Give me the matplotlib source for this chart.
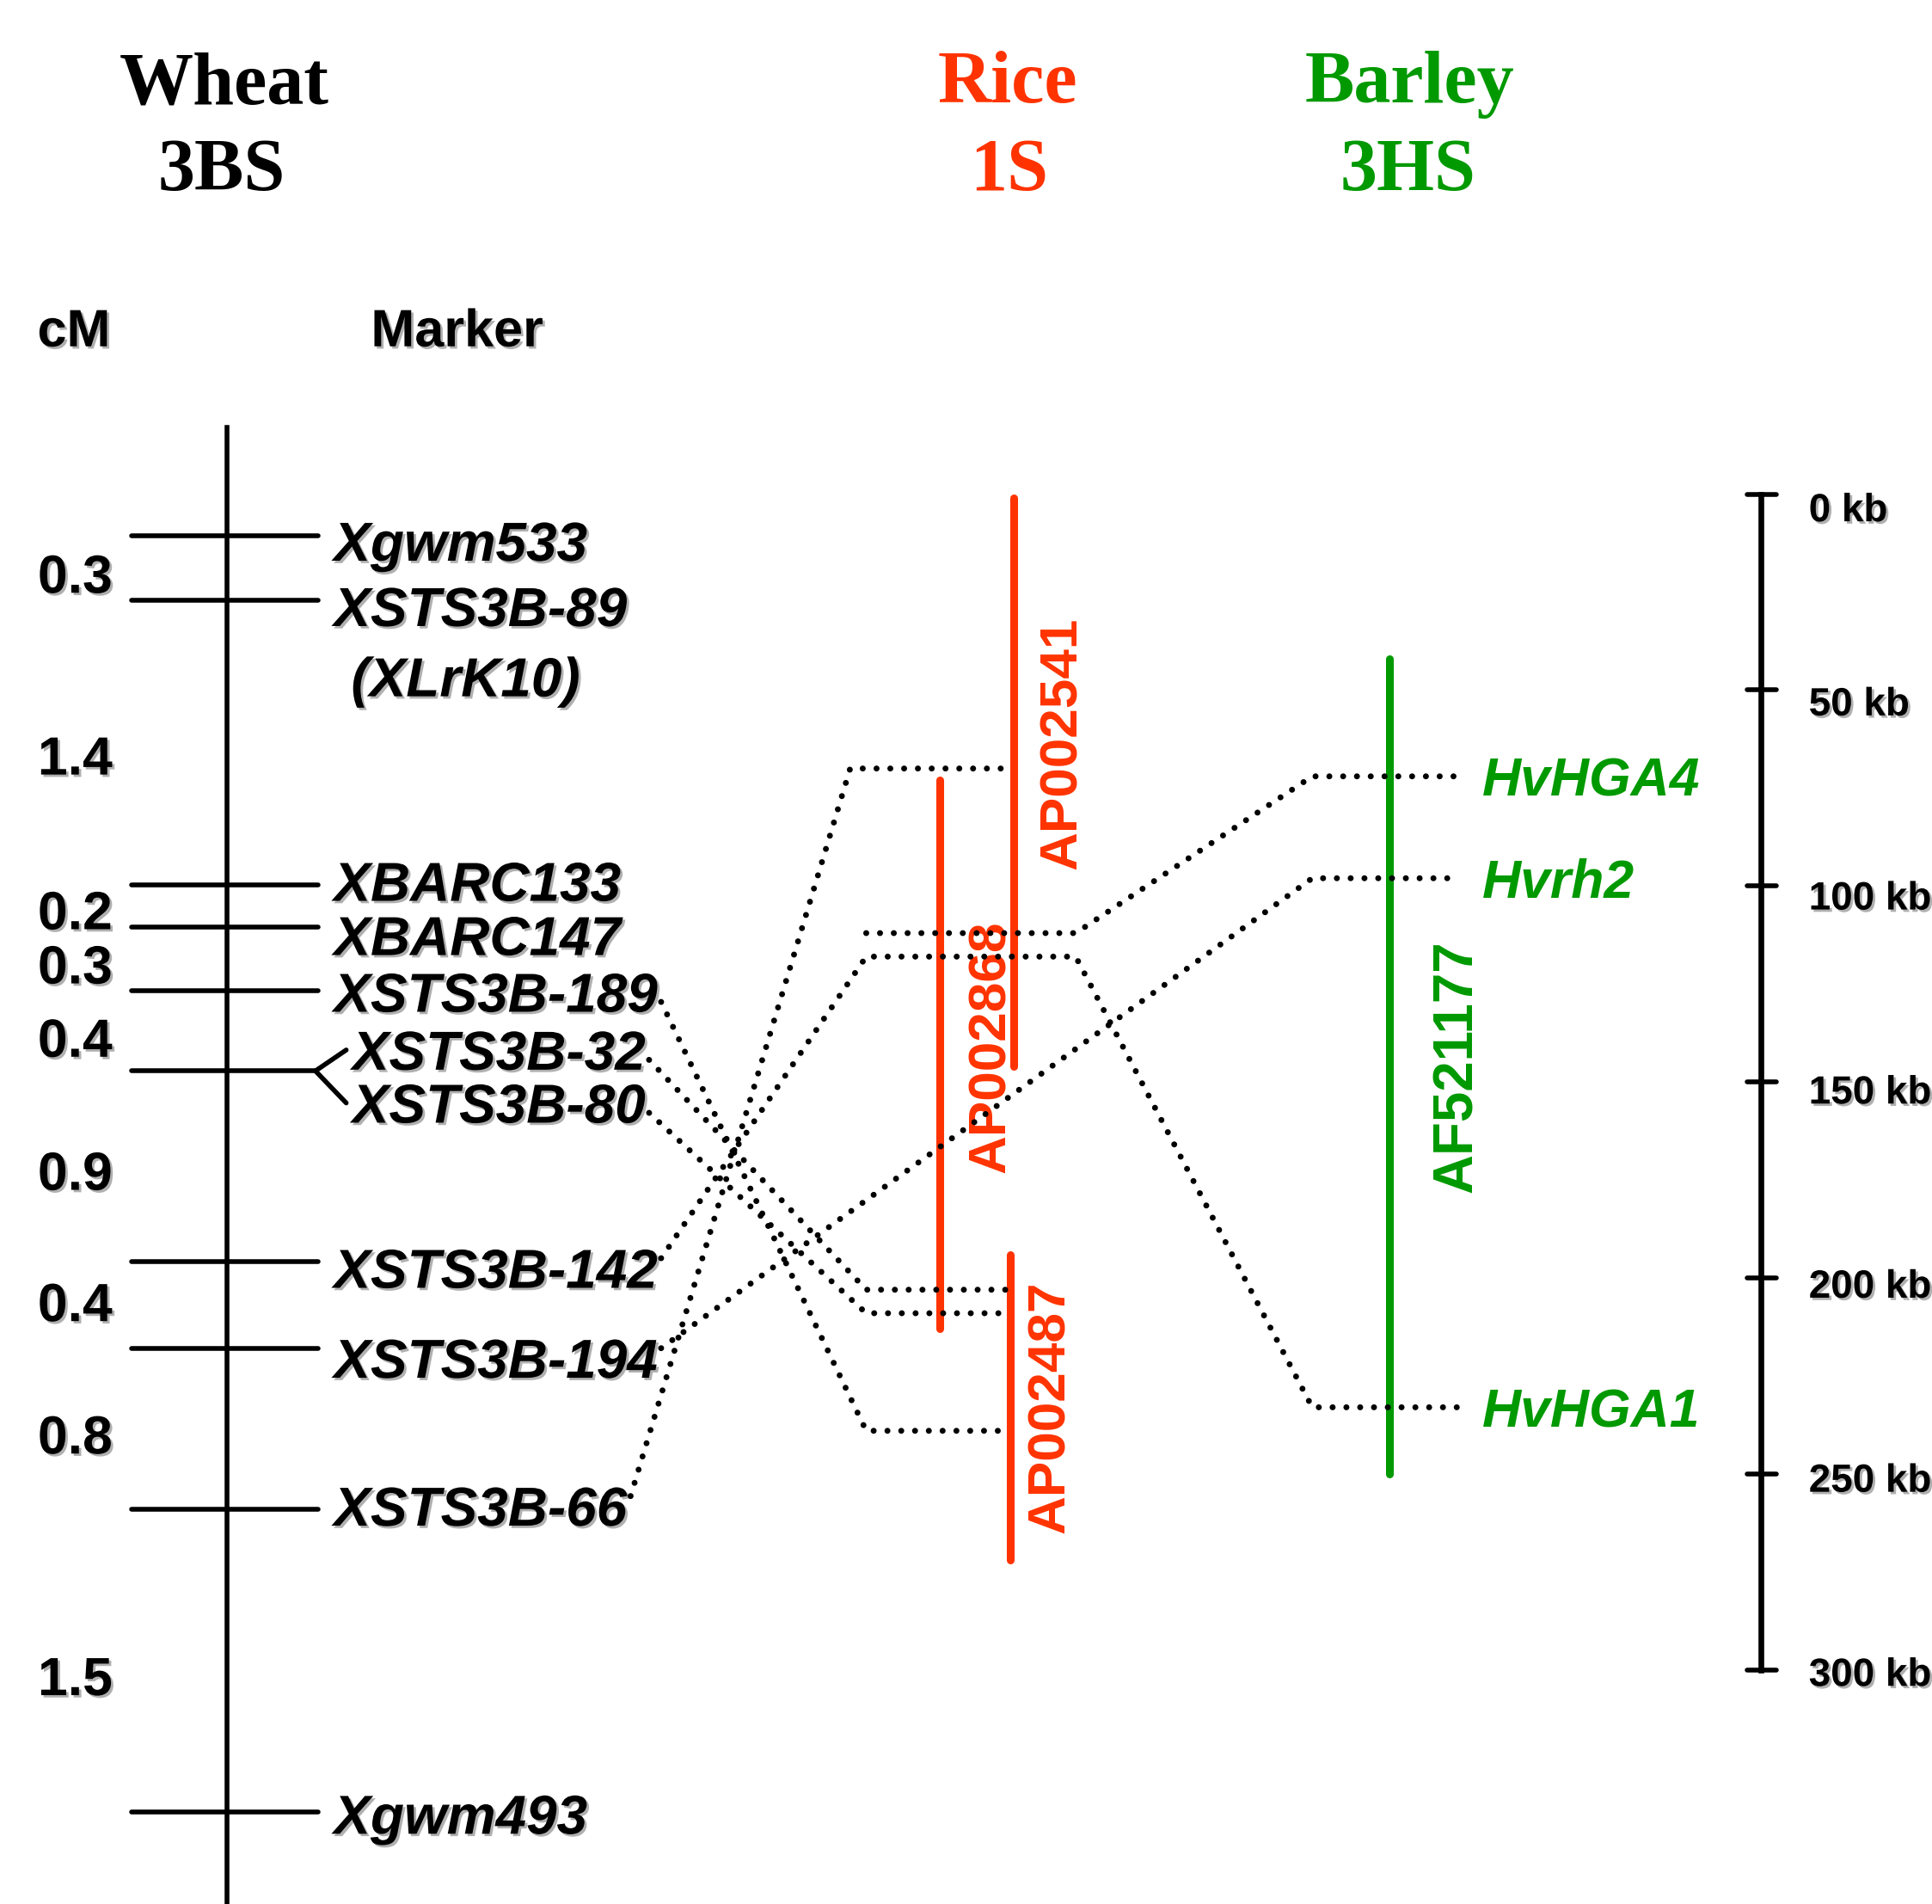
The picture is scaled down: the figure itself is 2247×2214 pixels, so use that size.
import matplotlib
matplotlib.use('Agg')
import matplotlib.pyplot as plt
import matplotlib.patheffects as pe
from matplotlib import font_manager
from collections import Counter

# ---------------- data ----------------
wheat_markers = ['Xgwm533', 'XSTS3B-89', 'XBARC133', 'XBARC147', 'XSTS3B-189',
                 'XSTS3B-32', 'XSTS3B-80', 'XSTS3B-142', 'XSTS3B-194', 'XSTS3B-66', 'Xgwm493']
wheat_marker_pos = [435, 487, 718, 752, 804, 869, 869, 1024, 1094, 1225, 1470]
wheat_marker_alias = ['', '(XLrK10)', '', '', '', '', '', '', '', '', '']
cm_intervals = ['0.3', '1.4', '0.2', '0.3', '0.4', '0.9', '0.4', '0.8', '1.5']

rice_bacs = ['AP002541', 'AP002868', 'AP002487']
rice_bac_start_kb = [1, 73, 194]
rice_bac_end_kb = [146, 213, 272]

barley_bac = 'AF521177'
barley_bac_start_kb = 42
barley_bac_end_kb = 250
barley_genes = ['HvHGA4', 'Hvrh2', 'HvHGA1']
barley_gene_kb = [72, 98, 233]

# links: wheat marker -> position on rice BACs (kb) -> barley gene
link_wheat = ['XSTS3B-66', 'XSTS3B-142', '', 'XSTS3B-32', 'XSTS3B-80', 'XSTS3B-189', 'XSTS3B-194']
link_rice_kb = [70, 118, 112, 203, 209, 239, None]
link_barley = ['', 'HvHGA1', 'HvHGA4', '', '', '', 'Hvrh2']

kb_ticks = [0, 50, 100, 150, 200, 250, 300]

# ---------------- layout / style ----------------
RED = '#ff3300'
GREEN = '#009900'
SHADOW_C = '#b0b0b0'
KB0_Y, KB_PER = 401, 3.18


def kb_y(kb):
    return KB0_Y + kb * KB_PER


CHROM_X, CHROM_TOP, CHROM_BOT = 184, 347, 1545
TICK_X0, TICK_X1 = 107, 258
LABEL_X, GROUP_LABEL_X = 271, 286
LABEL_DY = [4, 5, -3, 7, 1, -17, 26, 5, 8, -3, 2]   # label cap-centre offset from tick
CM_DY = [20, 26, 19, 20, 21, 19, 13, 20, 28]
CM_X = 61
RICE_X = [823, 763, 820]
RICE_LABEL_DX = [40, 42, 33]
RICE_LABEL_SHIFT_KB = [-10, -2, 0]
BARLEY_X = 1128
BARLEY_LABEL_DX = 55
RICE_BEND_X = [690, 703, 703, 703, 703, 703, None]
RICE_PASS_X = 873
BARLEY_BEND_X = 1065
BARLEY_LINE_END = 1185
BARLEY_LABEL_X = 1203
SCALE_X = 1429
BAC_LABEL_LEN = 205
WL = 4.0      # wheat line width (pt)
BAR_LW = 6.5

sans = 'Liberation Sans'
serif = 'Liberation Serif'
avail = {f.name for f in font_manager.fontManager.ttflist}
narrow = 'Liberation Sans Narrow' if 'Liberation Sans Narrow' in avail else sans

shadow = [pe.SimplePatchShadow(offset=(2.0, -2.0), shadow_rgbFace=SHADOW_C, alpha=1.0), pe.Normal()]
dot_kw = dict(color='black', lw=5.0, linestyle=(0, (0.01, 2.3)), dash_capstyle='round',
              solid_capstyle='round', zorder=6)

fig = plt.figure(figsize=(22.47, 22.14), dpi=100)
ax = fig.add_axes([0, 0, 1, 1])
ax.set_xlim(0, 1568)
ax.set_ylim(1545, 0)
ax.axis('off')

# ---------------- titles ----------------
tkw = dict(family=serif, weight='bold', size=62, ha='center', va='baseline')
ax.text(182, 84, 'Wheat', color='black', **tkw)
ax.text(180, 154, '3BS', color='black', **tkw)
ax.text(818, 83, 'Rice', color=RED, **tkw)
ax.text(819, 154, '1S', color=RED, **tkw)
ax.text(1144, 83, 'Barley', color=GREEN, **tkw)
ax.text(1143, 154, '3HS', color=GREEN, **tkw)

hkw = dict(family=sans, weight='bold', size=44, va='baseline', path_effects=shadow)
ax.text(60, 281, 'cM', ha='center', **hkw)
ax.text(371, 281, 'Marker', ha='center', **hkw)

# ---------------- wheat map ----------------
ax.plot([CHROM_X, CHROM_X], [CHROM_TOP, CHROM_BOT], color='black', lw=WL, zorder=3)

counts = Counter(wheat_marker_pos)
seen = {}
label_texts = {}
label_cap_y = {}
for name, pos, alias, dy in zip(wheat_markers, wheat_marker_pos, wheat_marker_alias, LABEL_DY):
    n = counts[pos]
    k = seen.get(pos, 0)
    seen[pos] = k + 1
    ycap = pos + dy
    if n == 1:
        x = LABEL_X
        ax.plot([TICK_X0, TICK_X1], [pos, pos], color='black', lw=WL,
                solid_capstyle='round', zorder=3)
    else:
        x = GROUP_LABEL_X
        if k == 0:
            ax.plot([TICK_X0, TICK_X1 - 2], [pos, pos], color='black', lw=WL,
                    solid_capstyle='round', zorder=3)
        ax.plot([TICK_X1 - 2, x - 5], [pos, ycap], color='black', lw=WL,
                solid_capstyle='round', zorder=3)
    t = ax.text(x, ycap + 16, name, family=sans, weight='bold', style='italic', size=46,
                ha='left', va='baseline', path_effects=shadow, zorder=4)
    label_texts[name] = t
    label_cap_y[name] = ycap
    if alias:
        ax.text(x + 14, ycap + 16 + 57, alias, family=sans, weight='bold', style='italic',
                size=46, ha='left', va='baseline', path_effects=shadow, zorder=4)

upos = sorted(set(wheat_marker_pos))
for a, b, lab, dy in zip(upos[:-1], upos[1:], cm_intervals, CM_DY):
    ax.text(CM_X, (a + b) / 2 + dy, lab, family=sans, weight='bold', size=45,
            ha='center', va='baseline', path_effects=shadow)

# ---------------- rice BACs ----------------
fig.canvas.draw()
renderer = fig.canvas.get_renderer()
inv = ax.transData.inverted()

for name, s, e, x, dx, sh in zip(rice_bacs, rice_bac_start_kb, rice_bac_end_kb, RICE_X,
                                 RICE_LABEL_DX, RICE_LABEL_SHIFT_KB):
    ax.plot([x, x], [kb_y(s), kb_y(e)], color=RED, lw=BAR_LW, solid_capstyle='round', zorder=2)
    t = ax.text(x + dx, kb_y((s + e) / 2 + sh), name, family=narrow, weight='bold', size=50,
                color=RED, rotation=90, ha='center', va='center', zorder=2)
    bb = t.get_window_extent(renderer)
    h = abs(inv.transform((0, bb.y0))[1] - inv.transform((0, bb.y1))[1])
    t.set_fontsize(50 * BAC_LABEL_LEN / h)

# ---------------- barley BAC ----------------
ax.plot([BARLEY_X, BARLEY_X], [kb_y(barley_bac_start_kb), kb_y(barley_bac_end_kb)],
        color=GREEN, lw=BAR_LW, solid_capstyle='round', zorder=2)
t = ax.text(BARLEY_X + BARLEY_LABEL_DX, kb_y((barley_bac_start_kb + barley_bac_end_kb) / 2),
            barley_bac, family=narrow, weight='bold', size=50, color=GREEN, rotation=90,
            ha='center', va='center', zorder=2)
bb = t.get_window_extent(renderer)
h = abs(inv.transform((0, bb.y0))[1] - inv.transform((0, bb.y1))[1])
t.set_fontsize(50 * BAC_LABEL_LEN / h)

gene_y = {}
for g, kb in zip(barley_genes, barley_gene_kb):
    y = kb_y(kb)
    gene_y[g] = y
    ax.text(BARLEY_LABEL_X, y + 16, g, family=sans, weight='bold', style='italic', size=45,
            color=GREEN, ha='left', va='baseline')

# ---------------- links ----------------
fig.canvas.draw()
for w, rkb, g, bend in zip(link_wheat, link_rice_kb, link_barley, RICE_BEND_X):
    xs, ys = [], []
    target_y = kb_y(rkb) if rkb is not None else gene_y[g]
    if w:
        bb = label_texts[w].get_window_extent(renderer)
        x_end = inv.transform((bb.x1, bb.y0))[0] + 3
        yc = label_cap_y[w]
        y0 = yc + 8 if target_y > yc else yc - 8
        xs.append(x_end)
        ys.append(y0)
    if rkb is not None:
        ry = kb_y(rkb)
        xs.append(bend)
        ys.append(ry)
        if g:
            xs += [RICE_PASS_X, BARLEY_BEND_X, BARLEY_LINE_END]
            ys += [ry, gene_y[g], gene_y[g]]
        else:
            hits = [x for x, s, e in zip(RICE_X, rice_bac_start_kb, rice_bac_end_kb) if s <= rkb <= e]
            xs.append(max(hits))
            ys.append(ry)
    else:
        xs += [BARLEY_BEND_X, BARLEY_LINE_END]
        ys += [gene_y[g], gene_y[g]]
    ax.plot(xs, ys, **dot_kw)

# ---------------- kb scale ----------------
ax.plot([SCALE_X, SCALE_X], [kb_y(kb_ticks[0]), kb_y(kb_ticks[-1])], color='black', lw=4.8,
        zorder=3)
for kb in kb_ticks:
    y = kb_y(kb)
    ax.plot([SCALE_X - 11, SCALE_X + 13], [y, y], color='black', lw=WL,
            solid_capstyle='round', zorder=3)
    ax.text(1468, y + 6 + 16 - kb * 0.03, f'{kb} kb', family=sans, weight='bold', size=33,
            ha='left', va='baseline', path_effects=shadow, clip_on=False)

fig.savefig('out.png', dpi=100)
